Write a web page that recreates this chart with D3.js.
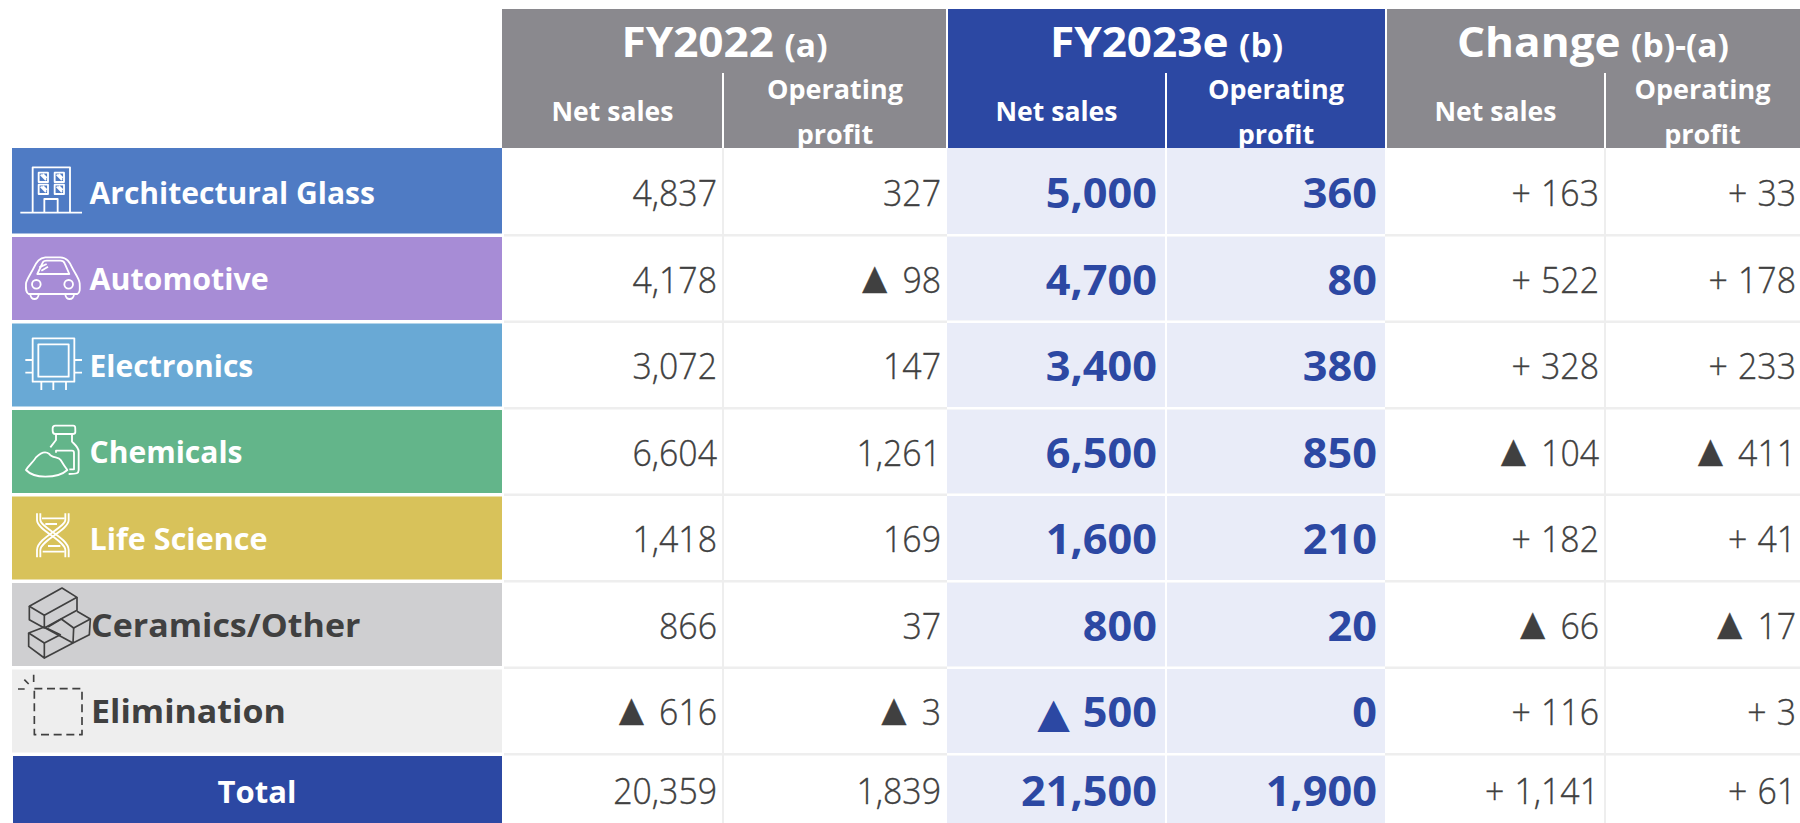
<!DOCTYPE html>
<html><head><meta charset="utf-8">
<script src="https://cdn.jsdelivr.net/npm/d3@7"></script>
<style>html,body{margin:0;padding:0;background:#fff;overflow:hidden}svg{display:block}text{font-family:"Open Sans","Noto Sans",sans-serif}</style>
</head><body><svg id="c" width="1800" height="823"></svg>
<script>
const categories=["Architectural Glass","Automotive","Electronics","Chemicals","Life Science","Ceramics/Other","Elimination","Total"];
const salesFY22=[4837,4178,3072,6604,1418,866,-616,20359];
const profitFY22=[327,-98,147,1261,169,37,-3,1839];
const salesFY23=[5000,4700,3400,6500,1600,800,-500,21500];
const profitFY23=[360,80,380,850,210,20,0,1900];
const salesChange=[163,522,328,-104,182,-66,116,1141];
const profitChange=[33,178,233,-411,41,-17,3,61];
const groupTitles=[["FY2022","(a)"],["FY2023e","(b)"],["Change","(b)-(a)"]];
const rowColors=["#4f7bc4","#a78cd6","#69a9d5","#63b58a","#d8c25a","#cfcfd1","#eeeeee","#2c48a3"];
const groupSx=[1.05,1.05,1.05];
const labelSx=[.97,.98,.97,.97,.985,1.03,1.03,1];
const labelFs=[31,31,31,31,31,33,33,31];
const GREY="#8a898e",BLUE="#2c48a3",PALE="#e9ecf8",RULE="#eeeeee",INK="#404040";
const colEdges=[502,723,947,1166,1386,1605,1800];
const svg=d3.select("#c");
const rowStep=86.5,rowGap=3.5;
const y=d3.scaleBand().domain(categories).range([150.5,150.5+rowStep*(8-rowGap/rowStep)]).paddingInner(rowGap/rowStep).paddingOuter(0);
const bh=y.bandwidth();
const fmt=d3.format(",");
const columns=[
 {v:salesFY22,sign:"",pad:6},{v:profitFY22,sign:"",pad:6},
 {v:salesFY23,sign:"",pad:9,hi:true},{v:profitFY23,sign:"",pad:9,hi:true},
 {v:salesChange,sign:"+",pad:6},{v:profitChange,sign:"+",pad:4}];
function txt(g,x,yy,s,o){
  const t=g.append("text").attr("transform",`translate(${x},${yy}) scale(${o.sx||1},1)`)
   .attr("text-anchor",o.a||"middle").attr("fill",o.c).attr("font-size",o.fs).attr("font-weight",o.w||400);
  if(o.sw)t.attr("stroke",o.c).attr("stroke-width",o.sw);
  t.text(s);return t;
}
function valueText(g,x,yy,v,sign,o){
  const t=txt(g,x,yy,"",o);
  if(v<0){
    t.append("tspan").attr("font-family","DejaVu Sans").attr("font-size",o.fs*o.tri).text("▲");
    t.append("tspan").attr("dx",o.fs*o.gap).text(fmt(-v));
  }else if(sign){
    t.append("tspan").text(sign);
    t.append("tspan").attr("dx",o.fs*.3).text(fmt(v));
  }else t.text(fmt(v));
}
const head=svg.append("g");
[0,1,2].forEach(i=>{
  const x0=colEdges[i*2],x1=colEdges[i*2+2];
  const col=i==1?BLUE:GREY;
  head.append("rect").attr("x",x0+(i?1:0)).attr("y",9).attr("width",x1-x0-(i==2?0:1)-(i?1:0)).attr("height",139).attr("fill",col);
  const t=txt(head,(x0+x1)/2,57,"",{fs:42,w:700,c:"#fff",sx:groupSx[i]});
  t.append("tspan").text(groupTitles[i][0]);
  t.append("tspan").attr("font-size",32).attr("dx",10).text(groupTitles[i][1]);
  const xm=colEdges[i*2+1];
  head.append("rect").attr("x",xm-1).attr("y",73).attr("width",2).attr("height",75).attr("fill","#fff");
  txt(head,(x0+xm)/2,121,"Net sales",{fs:27,w:700,c:"#fff",sx:.985});
  txt(head,(xm+x1)/2,99,"Operating",{fs:27,w:700,c:"#fff",sx:1});
  txt(head,(xm+x1)/2,144,"profit",{fs:27,w:700,c:"#fff",sx:1});
});
const body=svg.append("g");
body.append("rect").attr("x",502).attr("y",148).attr("width",1298).attr("height",675).attr("fill","#fff");
body.append("rect").attr("x",947).attr("y",148).attr("width",438).attr("height",675).attr("fill",PALE);
categories.slice(1).forEach(c=>{
  body.append("rect").attr("x",504).attr("y",y(c)-3).attr("width",1296).attr("height",2.5).attr("fill",RULE);
  body.append("rect").attr("x",947).attr("y",y(c)-3).attr("width",438).attr("height",2.5).attr("fill","#fff");
});
[723,1605].forEach(x=>body.append("rect").attr("x",x-1).attr("y",148).attr("width",2).attr("height",675).attr("fill",RULE));
body.append("rect").attr("x",1165).attr("y",148).attr("width",2).attr("height",675).attr("fill","#fff");
const labels=svg.append("g");
categories.forEach((c,i)=>{
  const yy=y(c),top=i==0?148:yy,isTotal=i==7;
  labels.append("rect").attr("x",isTotal?13:12).attr("y",top).attr("width",490-(isTotal?1:0)).attr("height",yy+bh-top).attr("fill",rowColors[i]);
  const dark=i==5||i==6;
  const by=isTotal?yy+47:yy+bh/2+(i==5?12.5:11.5);
  txt(labels,isTotal?257:(dark?91:89.5),by,c,{fs:labelFs[i],w:700,c:dark?INK:"#fff",a:isTotal?"middle":"start",sx:labelSx[i]});
});
const vals=svg.append("g");
columns.forEach((col,j)=>{
  const rx=colEdges[j+1]-col.pad;
  col.v.forEach((v,i)=>{
    const c=categories[i];
    const off=i==7?(col.hi?49.5:47.5):bh/2+(col.hi?16:14);
    valueText(vals,rx,y(c)+off,v,col.sign,col.hi?{fs:42,w:700,c:BLUE,a:"end",sx:1.03,tri:.98,gap:.3}:{fs:36,w:300,c:INK,a:"end",sx:.94,sw:.35,tri:1.25,gap:.2});
  });
});
const icons=[
 {oy:150,d:["M62 188V52H174V188","M25 188H210","M97 188V147H137V188","M80 68H108V96H80Z","M128 68H156V96H128Z","M80 104H108V132H80Z","M128 104H156V132H128Z","M86 74L102 90M92 72L104 84","M134 74L150 90M140 72L152 84","M86 110L102 126M92 108L104 120","M134 110L150 126M140 108L152 120"]},
 {oy:150,d:["M50 432C42 428 41 420 42 400C44 388 56 372 66 352C75 334 82 324 100 322H145C165 323 172 336 180 352C190 372 202 386 203 400C204 420 204 428 196 432Z","M76 372L92 338C94 333 98 332 104 332H145C152 332 156 335 158 340L172 372Z","M82 352L104 342M88 362L108 350","M55 432C55 452 80 452 80 432M160 432C160 452 186 452 186 432","M60 403a13 13 0 1 0 26 0a13 13 0 1 0 -26 0","M157 403a13 13 0 1 0 26 0a13 13 0 1 0 -26 0"]},
 {oy:320,d:["M62 55H187V185H62Z","M79 73H170V170H79Z","M40 120H62M40 158H62M187 120H210M187 158H210","M88 185V210M124 185V210M162 185V210"]},
 {oy:410,d:["M130 47H184C190 47 190 50 190 66C190 72 186 72 182 72H130C124 72 122 70 122 62V55C122 50 124 47 130 47Z","M132 72V90L115 112M180 72V95C190 105 200 112 200 125V180C200 190 195 192 170 192","M132 128V122H180C184 122 186 124 186 128V178H172","M42 180C50 165 64 156 72 142C84 130 100 122 112 132C120 145 140 140 146 150C152 160 160 172 166 180C150 195 120 200 100 200C78 200 56 195 42 180Z"]},
 {oy:410,d:["M75 310V330C75 360 160 392 160 420V442","M85 310V330C85 352 170 384 170 420V442","M170 310V330C170 360 85 392 85 420V442","M160 310V330C160 352 75 384 75 420V442","M90 325H158M100 342H135M108 408H145M92 425H158"]},
 {oy:583,d:["M52 70L150 15L195 43L97 97Z","M52 70V110L97 135V97","M97 135L195 82V43","M108 132L148 108L185 135L235 108L195 85","M185 135L183 180L232 155L235 108","M50 150L97 132L145 155L97 180Z","M50 150V190L97 225V180","M97 225L183 180","M100 135L183 180"],ink:true},
 {oy:583,d:["M65 275V297M37 290L50 303M18 318H38"],ink:true},
 {oy:583,d:["M67 317H210V455H67Z"],ink:true,dash:"24 14"}
];
const ic=svg.append("g").attr("fill","none");
icons.forEach(o=>{
  const g=ic.append("g").attr("transform",`translate(12,${o.oy}) scale(${1/3})`)
    .attr("stroke",o.ink?INK:"#fff").attr("stroke-width",o.ink?5:5.5).attr("stroke-linejoin","round");
  o.d.forEach(d=>{const p=g.append("path").attr("d",d);if(o.dash)p.attr("stroke-dasharray",o.dash);});
});
</script>
</body></html>
